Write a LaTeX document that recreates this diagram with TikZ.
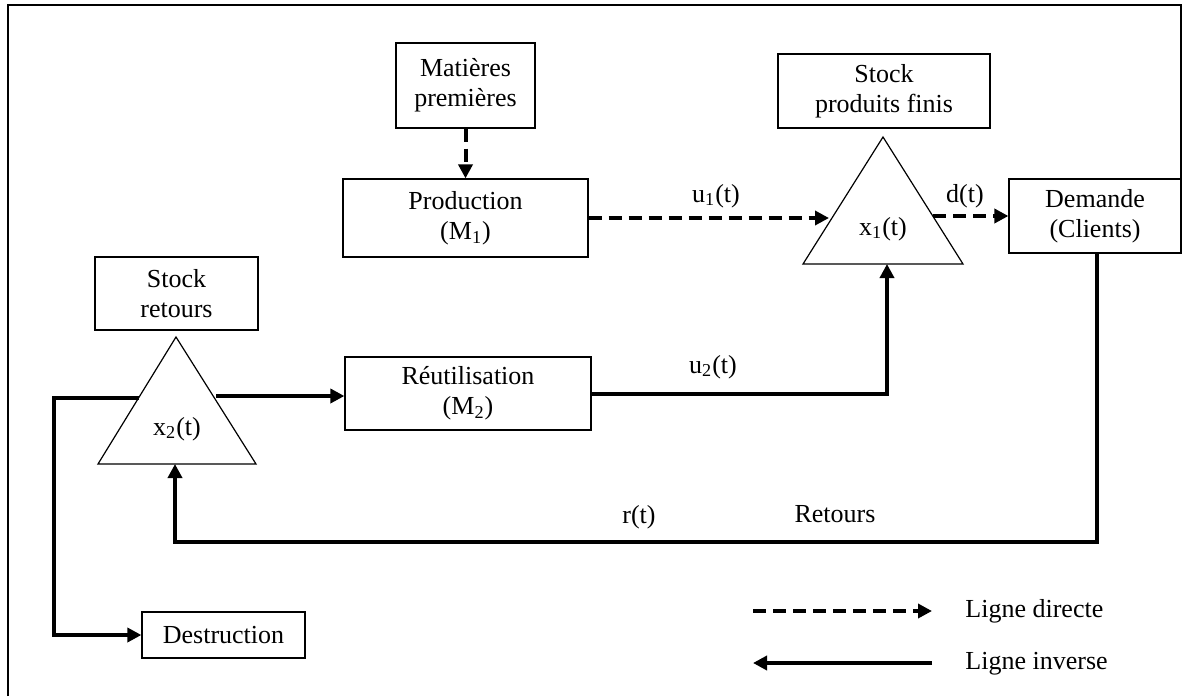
\documentclass[tikz,border=0pt]{standalone}
\usepackage{fontspec}
\setmainfont{Liberation Serif}
\usetikzlibrary{arrows.meta,calc}
\begin{document}
\begin{tikzpicture}[x=0.5pt,y=-0.5pt,
  font=\fontsize{13}{15}\selectfont,
  box/.style={draw,line width=0.6pt,align=center,inner sep=0pt},
  flow/.style={line width=2pt,line join=miter,-{Triangle[length=7pt,width=7pt]}},
  direct/.style={flow,dash pattern=on 6.5pt off 3.5pt},
  inverse/.style={flow},
  tri/.style={draw,line width=0.6pt,line join=miter},
  lbl/.style={anchor=base,inner sep=0pt}]
\useasboundingbox (0,0) rectangle (1182,696);

% outer frame
\draw[line width=0.6pt] (8,696) -- (8,5) -- (1181,5) -- (1181,253);

% boxes
\node[box,minimum width=69.5pt,minimum height=42.5pt] (mat) at (465.5,85.5) {Matières\\premières};
\node[box,minimum width=122.5pt,minimum height=39pt] (prod) at (465.5,218) {Production\\(M\textsubscript{1})};
\node[box,minimum width=106pt,minimum height=37pt] (spf) at (884,91) {Stock\\produits finis};
\node[box,minimum width=86pt,minimum height=37pt] (dem) at (1095,216) {Demande\\(Clients)};
\node[box,minimum width=81.5pt,minimum height=36.5pt] (sr) at (176.5,293.5) {Stock\\retours};
\node[box,minimum width=123pt,minimum height=36.5pt] (reut) at (468,393.5) {Réutilisation\\(M\textsubscript{2})};
\node[box,minimum width=81.5pt,minimum height=23pt] (destr) at (223.5,635) {Destruction};

% stock triangles
\coordinate (t1a) at (883,137);
\coordinate (t1l) at (803,264);
\coordinate (t1r) at (963,264);
\draw[tri] (t1a) -- (t1l) -- (t1r) -- cycle;
\node[lbl] (x1) at (883,235) {x\textsubscript{1}(t)};

\coordinate (t2a) at (176,337);
\coordinate (t2l) at (98,464);
\coordinate (t2r) at (256,464);
\draw[tri] (t2a) -- (t2l) -- (t2r) -- cycle;
\node[lbl] (x2) at (177,435) {x\textsubscript{2}(t)};

% forward flows
\draw[direct] (mat) -- (prod);
\coordinate (u1end) at (829,218);
\draw[direct] (prod.east) -- (u1end);
\coordinate (dstart) at (933,216);
\draw[direct] (dstart) -- (dem.west);

% reuse flow
\coordinate (u2end) at (887,264);
\draw[inverse] (reut.east) -| (u2end);
\coordinate (x2r) at (216,396);
\draw[flow] (x2r) -- (x2r -| reut.west);

% disposal
\coordinate (x2l) at (139,398);
\coordinate (bendL) at (54,398);
\draw[flow] (x2l) -- (bendL) |- (destr.west);

% returns
\coordinate (rbot) at (1097,542);
\coordinate (t2b) at (175,464);
\draw[flow] (dem.south -| rbot) -- (rbot) -| (t2b);

% flow labels
\node[lbl] (lu1) at (716,202) {u\textsubscript{1}(t)};
\node[lbl] (ld) at (965,202) {d(t)};
\node[lbl] (lu2) at (713,373) {u\textsubscript{2}(t)};
\node[lbl] (lr) at (639,523) {r(t)};
\node[lbl] (lret) at (835,522) {Retours};

% legend
\coordinate (ld1) at (753,611);
\coordinate (ld2) at (932,611);
\draw[direct] (ld1) -- (ld2);
\coordinate (li1) at (932,663);
\coordinate (li2) at (753,663);
\draw[inverse] (li1) -- (li2);
\node[lbl,anchor=base west] (ldt) at (965,617) {Ligne directe};
\node[lbl,anchor=base west] (lit) at (965,669) {Ligne inverse};
\end{tikzpicture}
\end{document}
